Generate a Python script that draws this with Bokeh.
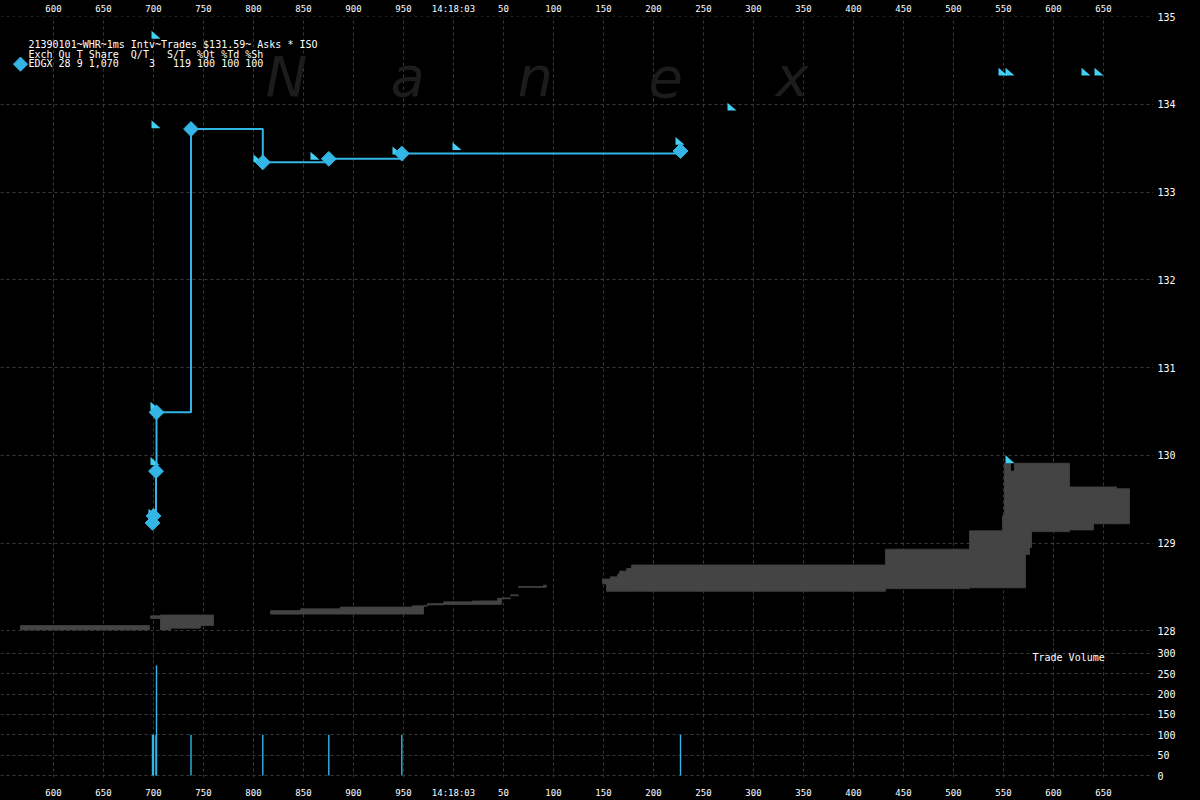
import numpy as np
from bokeh.plotting import figure
from bokeh.layouts import column
from bokeh.models import Range1d, FixedTicker, Label
from bokeh.embed import file_html
from bokeh.resources import INLINE

# ---------------- data ----------------
time_ticks = [600, 650, 700, 750, 800, 850, 900, 950, 1000, 1050, 1100, 1150,
              1200, 1250, 1300, 1350, 1400, 1450, 1500, 1550, 1600, 1650]
time_tick_labels = ["600", "650", "700", "750", "800", "850", "900", "950", "14:18:03",
                    "50", "100", "150", "200", "250", "300", "350", "400", "450",
                    "500", "550", "600", "650"]
price_ticks = [128, 129, 130, 131, 132, 133, 134, 135]
volume_ticks = [0, 50, 100, 150, 200, 250, 300]

# trades (ms after 14:18:02.000)
trade_time = [699, 700, 702.5, 703, 737.5, 809.3, 875.3, 948.3, 1227]
trade_price = [129.23, 129.31, 129.82, 130.49, 133.72, 133.34, 133.38, 133.44, 133.47]
trade_size = [100, 100, 100, 270, 100, 100, 100, 100, 100]

# ask quotes
ask_time = [698, 698, 697, 697, 695, 800, 857, 939, 999, 1222, 1274, 1545, 1552, 1628, 1641, 1552]
ask_price = [134.75, 133.73, 130.52, 129.89, 129.30, 133.34, 133.37, 133.43, 133.48,
             133.54, 133.93, 134.33, 134.33, 134.33, 134.33, 129.91]

# grey band (other quotes range)
band_start = [567, 697, 707, 717, 747, 817, 847, 887, 959, 970, 974, 990, 1019, 1044, 1048,
              1057, 1065, 1090, 1149, 1153, 1157, 1164, 1166, 1173, 1178, 1432, 1516, 1549,
              1551, 1557, 1561, 1572, 1576, 1578, 1616, 1640, 1663]
band_end = [696, 707, 717, 747, 760, 847, 887, 959, 970, 974, 990, 1019, 1044, 1048, 1057,
            1065, 1092, 1093, 1153, 1157, 1164, 1166, 1173, 1178, 1432, 1516, 1549, 1551,
            1557, 1561, 1572, 1576, 1578, 1616, 1640, 1663, 1676]
band_low = [128.01, 128.14, 128.01, 128.03, 128.06, 128.19, 128.19, 128.19, 128.19, 128.28,
            128.295, 128.30, 128.30, 128.30, 128.365, 128.40, 128.495, 128.50, 128.535, 128.45,
            128.45, 128.45, 128.45, 128.45, 128.45, 128.48, 128.49, 128.49, 128.49, 128.49,
            128.49, 128.87, 128.95, 129.13, 129.15, 129.22, 129.22]
band_high = [128.06, 128.17, 128.18, 128.18, 128.18, 128.23, 128.25, 128.27, 128.285, 128.29,
             128.31, 128.33, 128.34, 128.37, 128.375, 128.41, 128.505, 128.52, 128.59, 128.59,
             128.615, 128.645, 128.68, 128.71, 128.75, 128.93, 129.14, 129.31, 129.91, 129.82,
             129.91, 129.91, 129.91, 129.91, 129.64, 129.64, 129.62]

legend_title = "21390101~WHR~1ms Intv~Trades $131.59~ Asks * ISO"
legend_header = "Exch Qu T Share  Q/T   S/T  %Qt %Td %Sh"
legend_row = "EDGX 28 9 1,070     3   119 100 100 100"
watermark_letters = ["N", "a", "n", "e", "x"]
volume_title = "Trade Volume"

# ---------------- style ----------------
BLUE = "#33b5e5"
CYAN = "#40d2f5"
GRAY = "#444444"
GRID = "#3a3a3a"
MONO = "DejaVu Sans Mono"

FIG_W = 1200
TOP_H = 641
BOT_H = 159

x_range = Range1d(547, 1700)

def nb(s):
    return s.replace(" ", "\u00a0")

def style(p):
    p.background_fill_color = "black"
    p.border_fill_color = None
    p.outline_line_color = None
    p.min_border_left = 0
    p.min_border_right = 47
    for g in (p.xgrid, p.ygrid):
        g.grid_line_color = GRID
        g.grid_line_dash = "3 3"
        g.grid_line_width = 1
    for ax in p.axis:
        ax.axis_line_color = None
        ax.major_tick_line_color = None
        ax.minor_tick_line_color = None
        ax.major_tick_out = 0
        ax.major_tick_in = 0
        ax.major_label_text_color = "white"
        ax.major_label_text_font = MONO

# ---------------- price panel ----------------
p1 = figure(width=FIG_W, height=TOP_H, x_range=x_range, y_range=Range1d(127.8778, 135.003),
            x_axis_location="above", y_axis_location="right",
            toolbar_location=None, output_backend="svg")
style(p1)
p1.min_border_top = 15
p1.min_border_bottom = 0

tt = FixedTicker(ticks=time_ticks)
p1.xaxis.ticker = tt
p1.xgrid.ticker = tt
p1.xaxis.major_label_overrides = dict(zip(time_ticks, time_tick_labels))
p1.xaxis.major_label_text_font_size = "9px"
p1.xaxis.major_label_standoff = 3

pt = FixedTicker(ticks=price_ticks)
p1.yaxis.ticker = pt
p1.ygrid.ticker = pt
p1.yaxis.major_label_text_font_size = "10px"
p1.yaxis.major_label_standoff = 4

# watermark
for letter, xpos in zip(watermark_letters, [812, 937, 1064, 1195, 1322]):
    p1.add_layout(Label(x=xpos, y=134.317, text=letter, text_font="DejaVu Sans",
                        text_font_style="italic", text_font_size="56px",
                        text_baseline="alphabetic",
                        text_color="#1c1c1c", level="underlay"))

# grey band
p1.quad(left=band_start, right=band_end, bottom=band_low, top=band_high,
        fill_color=GRAY, line_color=GRAY, line_width=0.8)

# ask triangles (right angle at lower-left)
TW, TH = 9, 0.09
xs = [[t, t, t + TW] for t in ask_time]
ys = [[pr, pr + TH, pr] for pr in ask_price]
p1.patches(xs, ys, fill_color=CYAN, line_color=None)

# trade step line and diamonds
p1.step(trade_time, trade_price, mode="after", line_color=BLUE, line_width=2)
p1.scatter(trade_time, trade_price, marker="square", angle=np.pi / 4, size=10.5,
           fill_color=BLUE, line_color=BLUE)

# legend text
p1.scatter([567], [134.46], marker="square", angle=np.pi / 4, size=10,
           fill_color=BLUE, line_color=BLUE)
for txt, yv in zip([legend_title, legend_header, legend_row], [134.685, 134.571, 134.462]):
    p1.add_layout(Label(x=575, y=yv, text=nb(txt), text_font=MONO, text_font_size="10px",
                        text_color="white", text_baseline="middle"))

# ---------------- volume panel ----------------
p2 = figure(width=FIG_W, height=BOT_H, x_range=x_range, y_range=Range1d(-4.88, 329.27),
            x_axis_location="below", y_axis_location="right",
            toolbar_location=None, output_backend="svg")
style(p2)
p2.min_border_top = 0
p2.min_border_bottom = 22

tt2 = FixedTicker(ticks=time_ticks)
p2.xaxis.ticker = tt2
p2.xgrid.ticker = tt2
p2.xaxis.major_label_overrides = dict(zip(time_ticks, time_tick_labels))
p2.xaxis.major_label_text_font_size = "9px"
p2.xaxis.major_label_standoff = 10

vt = FixedTicker(ticks=volume_ticks)
p2.yaxis.ticker = vt
p2.ygrid.ticker = vt
p2.yaxis.major_label_text_font_size = "10px"
p2.yaxis.major_label_standoff = 4

p2.vbar(x=trade_time, top=trade_size, bottom=0, width=1.4, fill_color=BLUE, line_color=None)
p2.add_layout(Label(x=1579, y=290, text=nb(volume_title), text_font=MONO,
                    text_font_size="10px", text_color="white", text_baseline="middle"))

layout = column(p1, p2, spacing=0)

page_style = """
{% block postamble %}
<style>html, body { background: #000000; }</style>
{% endblock %}
"""
open("out.html", "w").write(file_html(layout, INLINE, "WHR trades", template=page_style))
